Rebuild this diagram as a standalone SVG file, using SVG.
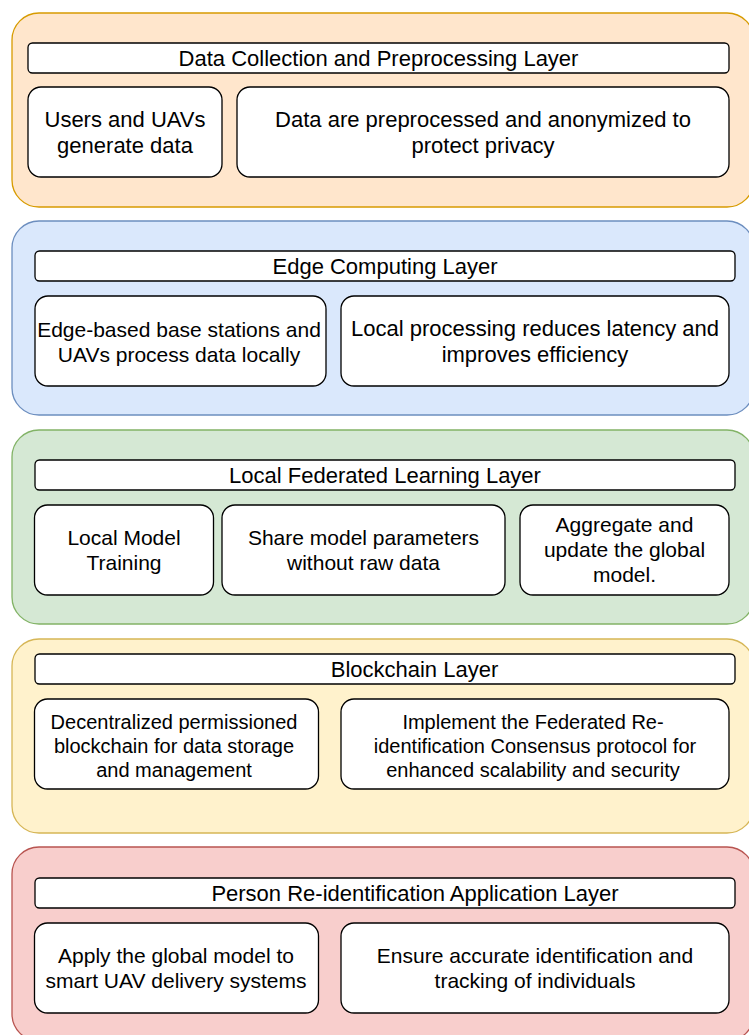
<svg xmlns="http://www.w3.org/2000/svg" width="749" height="1035" viewBox="0 0 749 1035">
<style>
.layer{stroke-width:1.3}
.box{fill:#ffffff;stroke:#000000;stroke-width:1.3}
text{font-family:"Liberation Sans",Arial,Helvetica,sans-serif;font-size:22px;fill:#000000;text-anchor:middle}
.s21 text{font-size:21px}
.s20 text{font-size:20px}
</style>
<rect x="0" y="0" width="749" height="1035" fill="#ffffff"/>
<g id="layer1">
<rect class="layer" x="12" y="13" width="742" height="194" rx="27" fill="#ffe6cc" stroke="#d79b00"/>
<rect class="box" x="28" y="43" width="701" height="30" rx="4.5"/>
<text x="378.5" y="65.7">Data Collection and Preprocessing Layer</text>
</g>
<g id="n1a"><rect class="box" x="28" y="87" width="194" height="90" rx="13"/>
<text x="125" y="127">Users and UAVs</text><text x="125" y="153.4">generate data</text></g>
<g id="n1b"><rect class="box" x="237" y="87" width="492" height="90" rx="13"/>
<text x="483" y="127">Data are preprocessed and anonymized to</text><text x="483" y="153.4">protect privacy</text></g>

<g id="layer2">
<rect class="layer" x="12" y="221" width="742" height="194" rx="27" fill="#dae8fc" stroke="#6c8ebf"/>
<rect class="box" x="35" y="251" width="700" height="30" rx="4.5"/>
<text x="385" y="273.7">Edge Computing Layer</text>
</g>
<g id="n2a" class="s21"><rect class="box" x="35" y="296" width="291" height="90" rx="13"/>
<text x="179" y="336.5">Edge-based base stations and</text><text x="179" y="361.5">UAVs process data locally</text></g>
<g id="n2b"><rect class="box" x="341" y="296" width="388" height="90" rx="13"/>
<text x="535" y="335.5">Local processing reduces latency and</text><text x="535" y="361.9">improves efficiency</text></g>

<g id="layer3">
<rect class="layer" x="12" y="430" width="742" height="194" rx="27" fill="#d5e8d4" stroke="#82b366"/>
<rect class="box" x="35" y="460" width="700" height="30" rx="4.5"/>
<text x="385" y="482.7">Local Federated Learning Layer</text>
</g>
<g id="n3a" class="s21"><rect class="box" x="34.5" y="505" width="179" height="90" rx="13"/>
<text x="124" y="545">Local Model</text><text x="124" y="570">Training</text></g>
<g id="n3b" class="s21"><rect class="box" x="222" y="505" width="283" height="90" rx="13"/>
<text x="363.5" y="545">Share model parameters</text><text x="363.5" y="570">without raw data</text></g>
<g id="n3c" class="s21"><rect class="box" x="520" y="505" width="209" height="90" rx="13"/>
<text x="624.5" y="532">Aggregate and</text><text x="624.5" y="557">update the global</text><text x="624.5" y="582">model.</text></g>

<g id="layer4">
<rect class="layer" x="12" y="639" width="742" height="194" rx="27" fill="#fff2cc" stroke="#d6b656"/>
<rect class="box" x="35" y="654" width="700" height="30" rx="4.5"/>
<text x="414.5" y="676.7">Blockchain Layer</text>
</g>
<g id="n4a" class="s20"><rect class="box" x="34.5" y="699" width="284" height="90" rx="13"/>
<text x="174" y="729">Decentralized permissioned</text><text x="174" y="753">blockchain for data storage</text><text x="174" y="777">and management</text></g>
<g id="n4b" class="s20"><rect class="box" x="341" y="699" width="388" height="90" rx="13"/>
<text x="533" y="729">Implement the Federated Re-</text><text x="535" y="753">identification Consensus protocol for</text><text x="533" y="777">enhanced scalability and security</text></g>

<g id="layer5">
<rect class="layer" x="12" y="847" width="742" height="194" rx="27" fill="#f8cecc" stroke="#b85450"/>
<rect class="box" x="35" y="878" width="700" height="30" rx="4.5"/>
<text x="415" y="900.7">Person Re-identification Application Layer</text>
</g>
<g id="n5a" class="s21"><rect class="box" x="34.5" y="923" width="284" height="90" rx="13"/>
<text x="176" y="962.5">Apply the global model to</text><text x="176" y="987.5">smart UAV delivery systems</text></g>
<g id="n5b" class="s21"><rect class="box" x="341" y="923" width="388" height="90" rx="13"/>
<text x="535" y="962.5">Ensure accurate identification and</text><text x="535" y="987.5">tracking of individuals</text></g>
<g id="connectors"/>
</svg>
